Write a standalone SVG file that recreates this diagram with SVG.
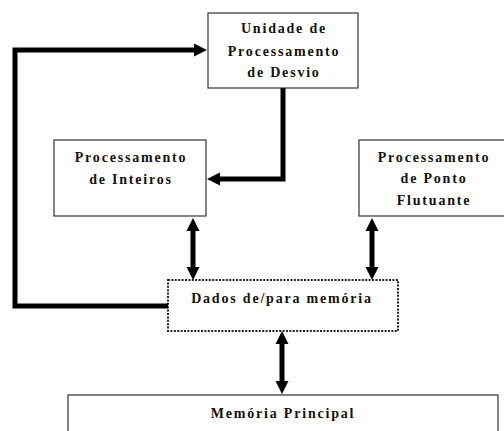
<svg xmlns="http://www.w3.org/2000/svg" width="504" height="431" viewBox="0 0 504 431">
<style>
.box{fill:#fff;stroke:#333;stroke-width:1.2}
.dot{fill:#fff;stroke:#222;stroke-width:2;stroke-dasharray:2 1.4}
.t{font-family:"Liberation Serif","Times New Roman",serif;font-weight:bold;font-size:14px;letter-spacing:1.8px;text-anchor:middle;fill:#111}
.c{fill:none;stroke:#000;stroke-width:5}
</style>
<defs>
<marker id="ah" markerUnits="userSpaceOnUse" markerWidth="14" markerHeight="14" refX="3" refY="7" orient="auto-start-reverse">
<path d="M0,0.5 L13,7 L0,13.5 z" fill="#000"/>
</marker>
</defs>
<rect width="504" height="431" fill="#fff"/>
<g id="desvio">
<rect class="box" x="208" y="13" width="150" height="75"/>
<text class="t" x="284" y="33">Unidade de</text>
<text class="t" x="284" y="56">Processamento</text>
<text class="t" x="284" y="77">de Desvio</text>
</g>
<g id="inteiros">
<rect class="box" x="54" y="140" width="152" height="76"/>
<text class="t" x="131" y="162">Processamento</text>
<text class="t" x="131" y="184">de Inteiros</text>
</g>
<g id="ponto">
<rect class="box" x="359" y="140" width="150" height="76"/>
<text class="t" x="434" y="162">Processamento</text>
<text class="t" x="434" y="183">de Ponto</text>
<text class="t" x="434" y="205">Flutuante</text>
</g>
<g id="dados">
<rect class="dot" x="168" y="280" width="230" height="51"/>
<text class="t" x="282" y="303">Dados de/para memória</text>
</g>
<g id="memoria">
<rect class="box" x="68" y="395" width="430" height="45"/>
<text class="t" x="283" y="418">Memória Principal</text>
</g>
<g id="connectors">
<path class="c" d="M168,306 H15 V50 H197" marker-end="url(#ah)"/>
<path class="c" d="M283,88 V179 H217" marker-end="url(#ah)"/>
<path class="c" d="M193,228 V270" marker-start="url(#ah)" marker-end="url(#ah)"/>
<path class="c" d="M372,228 V270" marker-start="url(#ah)" marker-end="url(#ah)"/>
<path class="c" d="M282,341 V384" marker-start="url(#ah)" marker-end="url(#ah)"/>
</g>
</svg>
